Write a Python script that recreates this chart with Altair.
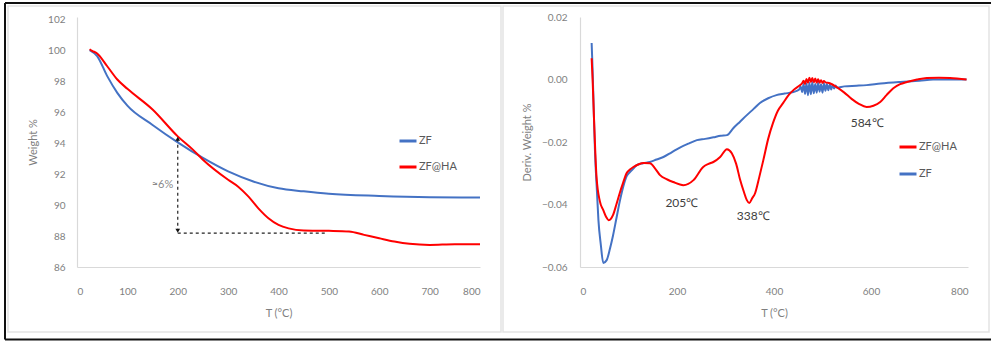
import altair as alt
import pandas as pd

# ---------------- data ----------------
# TGA (left panel)
tga_zf_T = [25, 40, 60, 80, 100, 150, 200, 250, 300, 350, 400, 450, 500, 600, 700, 800]
tga_zf_w = [100.05, 99.66, 98.36, 97.28, 96.45, 95.2, 94.07, 93.06, 92.19, 91.54, 91.1, 90.9, 90.74, 90.6, 90.52, 90.5]

tga_ha_T = [25, 30, 40, 60, 80, 100, 150, 200, 230, 250, 300, 320, 340, 360, 380, 400, 420, 450, 500, 540,
            570, 600, 630, 660, 700, 750, 800]
tga_ha_w = [100.1, 100.0, 99.83, 99.0, 98.14, 97.54, 96.2, 94.46, 93.6, 92.95, 91.65, 91.2, 90.57, 89.8, 89.16,
            88.73, 88.5, 88.36, 88.34, 88.3, 88.08, 87.86, 87.65, 87.5, 87.43, 87.47, 87.47]

tga_series = ["ZF", "ZF@HA"]

# annotation (≈6 % loss)
ann_vert_T = [200]
ann_vert_w = [94.3]
ann_vert_w2 = [88.35]
ann_horiz_T = [200]
ann_horiz_T2 = [497]
ann_horiz_w = [88.2]
ann_text = ["≈6%"]
ann_text_T = [191]
ann_text_w = [91.3]

# DTG (right panel)
dtg_zf_T = [24, 26, 28, 31, 35, 38, 43, 48, 55, 62, 68, 75, 82, 89, 96, 103, 110, 117, 130, 144, 158, 172,
            189, 206, 224, 241, 258, 275, 290, 303, 316, 330, 344, 358, 371, 388, 405, 422, 440, 452,
            455, 458, 461, 464, 467, 470, 473, 476, 479, 482, 485, 488, 491, 494, 497, 500, 503, 506,
            509, 512, 515, 518, 521, 524, 527, 530,
            545, 570, 591, 620, 660, 700, 728, 760, 797]
dtg_zf_v = [0.0117, 0.003, -0.008, -0.0235, -0.036, -0.045, -0.053, -0.0587, -0.0578, -0.054, -0.050, -0.0445,
            -0.039, -0.0344, -0.031, -0.0296, -0.0285, -0.0274, -0.0268, -0.0264, -0.0256, -0.0248,
            -0.0233, -0.0218, -0.0205, -0.0194, -0.019, -0.0185, -0.018, -0.0178, -0.0156, -0.0135, -0.0114,
            -0.0094, -0.0075, -0.006, -0.005, -0.0045, -0.004, -0.0032,
            -0.0022, -0.0040, -0.0014, -0.0046, -0.0012, -0.0050, -0.0010, -0.0047, -0.0008, -0.0044, -0.0014,
            -0.0042, -0.0010, -0.0039, -0.0015, -0.0042, -0.0012, -0.0036, -0.0014, -0.0034, -0.0016, -0.0032,
            -0.0017, -0.0029, -0.0019, -0.0026,
            -0.0022, -0.002, -0.0018, -0.0013, -0.0008, -0.0004, 0.0, 0.0, 0.0]

dtg_ha_T = [24, 26, 29, 34, 41, 48, 54, 59, 64, 68, 75, 82, 89, 96, 103, 110, 120, 131, 144, 155, 165, 180,
            192, 213, 234, 254, 265, 275, 289, 303, 313, 322, 330, 338, 344, 349, 355, 361, 370, 378, 388,
            398, 408, 419, 430, 440, 452,
            458, 461, 464, 467, 470, 473, 476, 479, 482, 485, 488, 491, 494, 497, 500, 503, 506,
            515, 530, 545, 560, 575, 591, 605, 619, 632, 646, 660, 674, 695, 715, 740, 763, 797]
dtg_ha_v = [0.0068, 0.0, -0.013, -0.031, -0.039, -0.0418, -0.044, -0.045, -0.0445, -0.0434, -0.040, -0.0363,
            -0.033, -0.030, -0.0288, -0.028, -0.0272, -0.0267, -0.0268, -0.0285, -0.0306, -0.032,
            -0.0328, -0.0338, -0.0322, -0.028, -0.027, -0.0264, -0.0248, -0.0223, -0.0236, -0.027, -0.032,
            -0.036, -0.0386, -0.0395, -0.038, -0.0364, -0.031, -0.0258, -0.019,
            -0.0139, -0.010, -0.0075, -0.005, -0.0034, -0.002,
            -0.0012, -0.0004, -0.0014, 0.0002, -0.0010, 0.0006, -0.0008, 0.0005, -0.0009, 0.0003, -0.0010,
            0.0001, -0.0010, -0.0002, -0.0011, -0.0005, -0.0009,
            -0.0012, -0.0025, -0.0042, -0.0062, -0.0078, -0.0088, -0.0084, -0.0072, -0.005, -0.0028, -0.0015,
            -0.0008, 0.0, 0.0005, 0.0006, 0.0005, 0.0]

dtg_series = ["ZF@HA", "ZF"]

dtg_label_text = ["205℃", "338℃", "584℃"]
dtg_label_T = [210, 357, 592]
dtg_label_v = [-0.0395, -0.0437, -0.0139]

# ---------------- style ----------------
BLUE = "#4472C4"
RED = "#FF0000"
FONT = "Lato"
GREY = "#7f7f7f"
AXIS_LINE = "#D9D9D9"

tga = pd.DataFrame({
    "T": tga_zf_T + tga_ha_T,
    "w": tga_zf_w + tga_ha_w,
    "series": ["ZF"] * len(tga_zf_T) + ["ZF@HA"] * len(tga_ha_T),
})
dtg = pd.DataFrame({
    "T": dtg_zf_T + dtg_ha_T,
    "v": dtg_zf_v + dtg_ha_v,
    "series": ["ZF"] * len(dtg_zf_T) + ["ZF@HA"] * len(dtg_ha_T),
})

LW, LH = 403, 250
RW, RH = 388, 250

def axis_common(**kw):
    base = dict(grid=False, ticks=False, tickSize=0, domainColor=AXIS_LINE, domainWidth=1.2,
                labelColor=GREY, labelFont=FONT, labelFontSize=10,
                titleColor=GREY, titleFont=FONT, titleFontSize=11, titleFontWeight="normal")
    base.update(kw)
    return alt.Axis(**base)

xL = alt.X("T:Q", scale=alt.Scale(domain=[0, 800], nice=False, zero=False),
           axis=axis_common(values=[0, 100, 200, 300, 400, 500, 600, 700, 800], title="T (°C)",
                            labelPadding=19, titleY=46, titleBaseline="middle"))
yL = alt.Y("w:Q", scale=alt.Scale(domain=[86, 102.19], nice=False, zero=False),
           axis=axis_common(values=[86, 88, 90, 92, 94, 96, 98, 100, 102], title="Weight %",
                            labelPadding=12, titleX=-44, titleY=LH / 2, titleBaseline="middle"))

one = pd.DataFrame({"a": [0]})

# outer black border (top, left, bottom; right edge is cut off in the reference)
border_top = alt.Chart(one).mark_rule(color="#111111", strokeWidth=2).encode(
    x=alt.value(-72), x2=alt.value(914), y=alt.value(-14))
border_bot = alt.Chart(one).mark_rule(color="#111111", strokeWidth=2).encode(
    x=alt.value(-72), x2=alt.value(914), y=alt.value(322.5))
border_left = alt.Chart(one).mark_rule(color="#111111", strokeWidth=2).encode(
    x=alt.value(-72), y=alt.value(-14), y2=alt.value(322.5))
frame_left = alt.Chart(one).mark_rect(filled=False, stroke="#E3E3E3", strokeWidth=1.5).encode(
    x=alt.value(-69), x2=alt.value(424), y=alt.value(-11), y2=alt.value(315))

tga_lines = alt.Chart(tga).mark_line(strokeWidth=2, interpolate="monotone").encode(
    x=xL, y=yL,
    color=alt.Color("series:N", scale=alt.Scale(domain=tga_series, range=[BLUE, RED]),
                    legend=alt.Legend(orient="none", legendX=321, legendY=114, title=None,
                                      direction="vertical", symbolType="stroke", symbolSize=289,
                                      symbolStrokeWidth=3, labelFont=FONT, labelFontSize=11,
                                      labelColor="#595959", rowPadding=10, labelOffset=1, padding=0)))

vert = alt.Chart(pd.DataFrame({"T": ann_vert_T, "w": ann_vert_w, "w2": ann_vert_w2})).mark_rule(
    color="#222222", strokeDash=[3, 3], strokeWidth=1.2).encode(x=xL, y=yL, y2="w2:Q")
horiz = alt.Chart(pd.DataFrame({"T": ann_horiz_T, "T2": ann_horiz_T2, "w": ann_horiz_w})).mark_rule(
    color="#222222", strokeDash=[3, 3], strokeWidth=1.2).encode(x=xL, x2="T2:Q", y=yL)
head_top = alt.Chart(pd.DataFrame({"T": ann_vert_T, "w": ann_vert_w})).mark_point(
    shape="triangle-up", filled=True, color="#111111", size=22, opacity=1).encode(x=xL, y=yL)
head_bot = alt.Chart(pd.DataFrame({"T": ann_vert_T, "w": ann_vert_w2})).mark_point(
    shape="triangle-down", filled=True, color="#111111", size=22, opacity=1).encode(x=xL, y=yL)
ann = alt.Chart(pd.DataFrame({"T": ann_text_T, "w": ann_text_w, "t": ann_text})).mark_text(
    align="right", baseline="middle", font=FONT, fontSize=11, color="#8a8a8a").encode(x=xL, y=yL, text="t:N")

left = alt.layer(border_top, border_bot, border_left, frame_left, tga_lines, vert, horiz,
                 head_top, head_bot, ann).properties(width=LW, height=LH)

xR = alt.X("T:Q", scale=alt.Scale(domain=[0, 800], nice=False, zero=False),
           axis=axis_common(values=[0, 200, 400, 600, 800], title="T (°C)",
                            labelPadding=19, titleY=46, titleBaseline="middle"))
yR = alt.Y("v:Q", scale=alt.Scale(domain=[-0.06, 0.02], nice=False, zero=False),
           axis=axis_common(values=[-0.06, -0.04, -0.02, 0.0, 0.02], format=".2f", title="Deriv. Weight %",
                            labelPadding=13, titleX=-53, titleY=RH / 2, titleBaseline="middle"))

frame_right = alt.Chart(one).mark_rect(filled=False, stroke="#E3E3E3", strokeWidth=1.5).encode(
    x=alt.value(-77), x2=alt.value(409), y=alt.value(-11), y2=alt.value(315))

dtg_lines = alt.Chart(dtg).mark_line(strokeWidth=2, interpolate="monotone").encode(
    x=xR, y=yR,
    color=alt.Color("series:N", scale=alt.Scale(domain=dtg_series, range=[RED, BLUE]),
                    legend=alt.Legend(orient="none", legendX=318, legendY=120, title=None,
                                      direction="vertical", symbolType="stroke", symbolSize=289,
                                      symbolStrokeWidth=3, labelFont=FONT, labelFontSize=11,
                                      labelColor="#595959", rowPadding=11, labelOffset=1, padding=0)))

peaks = alt.Chart(pd.DataFrame({"T": dtg_label_T, "v": dtg_label_v, "t": dtg_label_text})).mark_text(
    align="center", baseline="middle", font=FONT, fontSize=12, color="#404040").encode(x=xR, y=yR, text="t:N")

right = alt.layer(frame_right, dtg_lines, peaks).properties(width=RW, height=RH)

chart = alt.hconcat(left, right, spacing=100, bounds="flush").resolve_scale(
    color="independent", x="independent", y="independent").resolve_legend(color="independent").properties(
    padding={"left": 4, "top": 2, "right": 0, "bottom": 0},
    background="white",
).configure_view(strokeWidth=0)

chart.save("out.html", embed_options={"renderer": "svg", "actions": False})
